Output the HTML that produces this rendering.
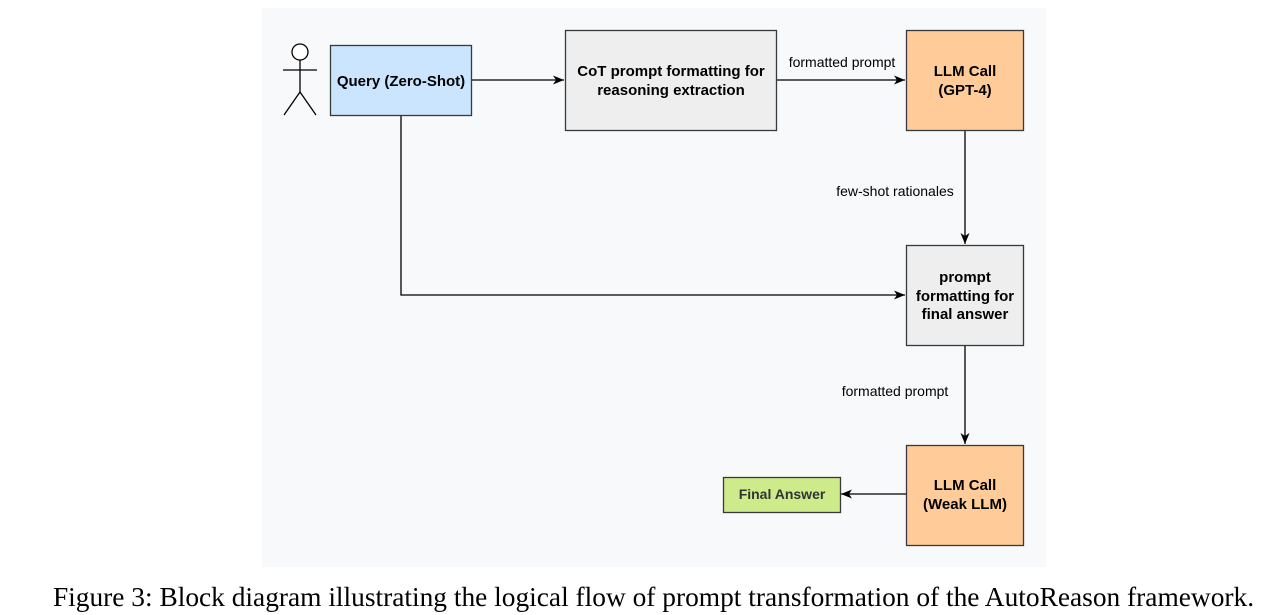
<!DOCTYPE html>
<html><head><style>
body{margin:0;width:1271px;height:615px;background:#fff;position:relative;overflow:hidden}
.cap{position:absolute;left:0;width:1307px;top:582px;text-align:center;font-family:"Liberation Serif",serif;font-size:27.4px;color:#000;white-space:nowrap}
</style></head><body>
<svg width="1271" height="615" style="position:absolute;left:0;top:0" font-family="Liberation Sans, sans-serif">
<defs><marker id="a" markerWidth="12" markerHeight="12" refX="11" refY="6" orient="auto" markerUnits="userSpaceOnUse"><path d="M0,1.5 L11,6 L0,10.5 L3,6 Z" fill="#000"/></marker></defs>
<rect x="262" y="8" width="784" height="559" fill="#f8f9fb"/>
<g stroke="#000" stroke-width="1.3" fill="none">
<circle cx="300" cy="52" r="8" fill="#fff"/>
<line x1="300" y1="60" x2="300" y2="92"/>
<line x1="283" y1="70" x2="317" y2="70"/>
<line x1="300" y1="92" x2="284" y2="115"/>
<line x1="300" y1="92" x2="316" y2="115"/>
<line x1="472" y1="80" x2="564" y2="80" marker-end="url(#a)"/>
<line x1="777" y1="80" x2="905" y2="80" marker-end="url(#a)"/>
<line x1="965" y1="130" x2="965" y2="244" marker-end="url(#a)"/>
<polyline points="401,115 401,295 905,295" marker-end="url(#a)"/>
<line x1="965" y1="345" x2="965" y2="444" marker-end="url(#a)"/>
<line x1="906" y1="494" x2="841" y2="494" marker-end="url(#a)"/>
</g>
<g stroke="#36393d" stroke-width="1.3">
<rect x="330.5" y="45.5" width="141" height="70" fill="#cce5ff"/>
<rect x="565.5" y="30.5" width="211" height="100" fill="#eeeeee"/>
<rect x="906.5" y="30.5" width="117" height="100" fill="#ffcc99"/>
<rect x="906.5" y="245.5" width="117" height="100" fill="#eeeeee"/>
<rect x="906.5" y="445.5" width="117" height="100" fill="#ffcc99"/>
<rect x="723.5" y="477.5" width="117" height="35" fill="#cdeb8b"/>
</g>
<g font-weight="bold" font-size="15" fill="#000" text-anchor="middle">
<text x="401" y="86">Query (Zero-Shot)</text>
<text x="671" y="76">CoT prompt formatting for</text>
<text x="671" y="95">reasoning extraction</text>
<text x="965" y="76">LLM Call</text>
<text x="965" y="95">(GPT-4)</text>
<text x="965" y="282">prompt</text>
<text x="965" y="301">formatting for</text>
<text x="965" y="319">final answer</text>
<text x="965" y="490">LLM Call</text>
<text x="965" y="509">(Weak LLM)</text>
<text x="782" y="499" font-size="14" fill="#333">Final Answer</text>
</g>
<g font-size="14" fill="#000" text-anchor="middle">
<rect x="786" y="53" width="112" height="16" fill="#f8f9fb"/>
<text x="842" y="67">formatted prompt</text>
<rect x="834" y="182" width="122" height="16" fill="#f8f9fb"/>
<text x="895" y="196">few-shot rationales</text>
<rect x="839" y="383" width="112" height="16" fill="#f8f9fb"/>
<text x="895" y="396">formatted prompt</text>
</g>
</svg>
<div class="cap">Figure 3: Block diagram illustrating the logical flow of prompt transformation of the AutoReason framework.</div>
</body></html>
